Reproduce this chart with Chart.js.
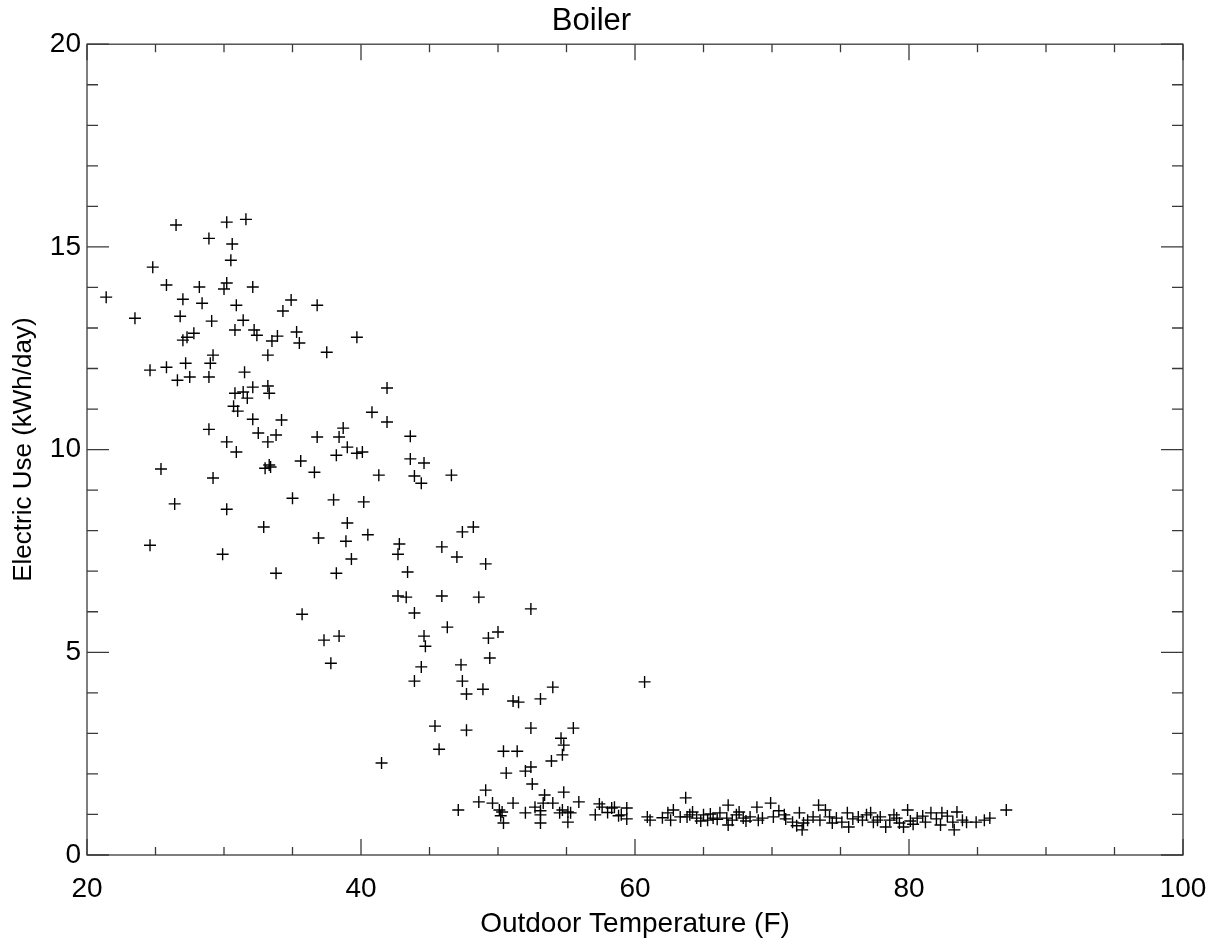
<!DOCTYPE html>
<html>
<head>
<meta charset="utf-8">
<title>Boiler</title>
<script src="https://cdn.jsdelivr.net/npm/chart.js@4.4.1/dist/chart.umd.min.js"></script>
<style>
  html, body { margin: 0; padding: 0; background: #fff; }
</style>
</head>
<body>
<canvas id="boilerChart" width="1220" height="949"></canvas>
<script>
// daily readings: outdoor temperature (F) and boiler electric use (kWh/day)
const temperature = [
  21.4, 23.5, 24.6, 24.6, 24.8, 25.4, 25.8, 25.8, 26.4, 26.5, 26.6, 26.8, 27.0, 27.0,
  27.2, 27.3, 27.5, 27.8, 28.2, 28.4, 28.9, 28.9, 28.9, 29.0, 29.1, 29.2, 29.2, 29.9,
  30.0, 30.2, 30.2, 30.2, 30.2, 30.5, 30.6, 30.7, 30.8, 30.8, 30.9, 30.9, 31.0, 31.4,
  31.4, 31.5, 31.6, 31.7, 32.1, 32.1, 32.1, 32.2, 32.4, 32.5, 32.9, 33.0, 33.2, 33.2,
  33.2, 33.3, 33.3, 33.4, 33.5, 33.8, 33.8, 33.9, 34.2, 34.3, 34.9, 35.0, 35.3, 35.5,
  35.6, 35.7, 36.6, 36.8, 36.8, 36.9, 37.3, 37.5, 37.8, 38.0, 38.2, 38.2, 38.4, 38.4,
  38.7, 38.9, 39.0, 39.0, 39.3, 39.7, 39.7, 40.1, 40.2, 40.5, 40.8, 41.3, 41.5, 41.9,
  41.9, 42.7, 42.7, 42.8, 43.3, 43.4, 43.6, 43.6, 43.9, 43.9, 43.9, 44.4, 44.4, 44.6,
  44.6, 44.7, 45.4, 45.7, 45.9, 45.9, 46.3, 46.6, 47.0, 47.3, 47.4, 47.4, 47.7, 47.7,
  48.2, 48.6, 48.9, 49.1, 49.3, 49.4, 50.0, 50.4, 50.6, 51.1, 51.4, 51.5, 52.0, 52.4,
  52.4, 52.4, 53.1, 53.9, 54.0, 54.6, 54.7, 54.8, 55.5, 60.7,
  47.1, 48.6, 49.1, 49.6, 50.1, 50.2, 50.3, 50.4, 51.1, 52.0, 52.5, 52.7, 53.1, 53.1,
  53.1, 53.3, 53.4, 54.0, 54.5, 54.7, 54.8, 55.1, 55.1, 55.3, 55.9, 57.1, 57.4, 57.6,
  58.0, 58.3, 58.5, 58.8, 59.0, 59.4, 59.4, 60.9, 61.1, 62.0, 62.4, 62.6, 62.8, 63.3,
  63.7, 63.8, 64.0, 64.2, 64.5, 64.8, 65.0, 65.3, 65.5, 65.7, 66.0, 66.2, 66.7, 66.8,
  66.8, 67.1, 67.4, 67.6, 67.9, 68.1, 68.4, 68.9, 69.0, 69.3, 69.9, 70.1, 70.5, 70.9,
  71.0, 71.5, 71.8, 72.0, 72.2, 72.3, 72.6, 73.0, 73.4, 73.5, 73.9, 74.2, 74.4, 74.7,
  75.1, 75.5, 75.6, 75.9, 76.3, 76.6, 76.9, 77.2, 77.4, 77.7, 77.9, 78.3, 78.6, 78.9,
  79.1, 79.3, 79.6, 79.9, 80.1, 80.3, 80.6, 81.0, 81.2, 81.6, 82.0, 82.3, 82.4, 82.8,
  83.2, 83.3, 83.5, 83.9, 84.2, 84.9, 85.5, 85.9, 87.1
];
const electricUse = [
  13.76, 13.24, 11.96, 7.64, 14.50, 9.52, 14.06, 12.03, 8.66, 15.54, 11.71, 13.29, 13.71, 12.70,
  12.13, 12.77, 11.79, 12.87, 14.01, 13.61, 15.21, 11.79, 10.50, 12.13, 13.17, 12.33, 9.30, 7.42,
  13.96, 15.61, 14.11, 10.19, 8.53, 14.67, 15.07, 11.07, 12.95, 11.39, 13.56, 9.94, 10.95, 13.19,
  11.42, 11.91, 15.68, 11.27, 14.01, 11.54, 10.75, 12.95, 12.82, 10.41, 8.09, 9.54, 12.33, 11.57,
  10.19, 11.39, 9.62, 9.57, 12.68, 10.36, 6.95, 12.80, 10.73, 13.42, 13.69, 8.80, 12.90, 12.63,
  9.72, 5.94, 9.44, 13.56, 10.31, 7.82, 5.30, 12.40, 4.73, 8.76, 9.86, 6.95, 10.31, 5.40,
  10.53, 7.74, 10.06, 8.19, 7.30, 12.77, 9.91, 9.94, 8.71, 7.90, 10.92, 9.37, 2.27, 11.52,
  10.68, 7.42, 6.39, 7.67, 6.36, 6.98, 10.33, 9.77, 9.35, 5.97, 4.29, 9.17, 4.64, 9.67,
  5.40, 5.15, 3.18, 2.61, 7.60, 6.39, 5.62, 9.37, 7.35, 4.69, 7.97, 4.29, 3.97, 3.08,
  8.09, 6.36, 4.09, 7.18, 5.35, 4.86, 5.50, 2.56, 2.02, 3.80, 2.56, 3.77, 2.07, 6.07,
  3.13, 2.17, 3.85, 2.32, 4.14, 2.88, 2.47, 2.71, 3.13, 4.27,
  1.11, 1.31, 1.60, 1.28, 1.11, 0.97, 1.06, 0.79, 1.28, 1.04, 1.75, 1.18, 1.09, 0.99,
  0.79, 1.28, 1.48, 1.28, 1.04, 1.11, 1.55, 1.06, 0.81, 1.04, 1.31, 0.99, 1.26, 1.18,
  1.05, 1.16, 1.18, 0.97, 0.99, 0.89, 1.16, 0.94, 0.86, 0.92, 1.04, 0.86, 1.11, 0.94,
  1.41, 0.94, 0.99, 1.06, 0.91, 0.84, 0.99, 0.86, 1.01, 0.91, 0.88, 1.04, 0.91, 0.74,
  1.23, 0.86, 0.99, 1.06, 0.91, 0.84, 0.94, 1.18, 0.86, 0.91, 1.28, 0.94, 1.09, 0.99,
  0.89, 0.81, 0.72, 1.04, 0.62, 0.79, 0.86, 0.94, 1.23, 0.86, 1.11, 0.94, 0.79, 0.91,
  0.81, 1.04, 0.69, 0.89, 0.94, 0.86, 0.99, 1.04, 0.81, 0.86, 0.94, 0.69, 0.86, 0.99,
  0.91, 0.79, 0.69, 1.11, 0.84, 0.76, 0.91, 0.96, 0.81, 1.04, 0.89, 0.74, 1.04, 0.96,
  0.81, 0.62, 1.06, 0.86, 0.81, 0.81, 0.86, 0.91, 1.11
];

const xTickValues = [20, 40, 60, 80, 100];
const yTickValues = [0, 5, 10, 15, 20];

const FONT = "'Liberation Sans', Arial, Helvetica, sans-serif";

// box around the plot with inward major/minor ticks on all four sides
const frameTicks = {
  id: "frameTicks",
  afterDatasetsDraw(chart) {
    const { ctx, chartArea: a, scales: { x, y } } = chart;
    ctx.save();
    ctx.strokeStyle = "#3a3a3a";
    ctx.lineWidth = 1.3;
    ctx.strokeRect(a.left, a.top, a.right - a.left, a.bottom - a.top);
    ctx.beginPath();
    for (let v = x.min; v <= x.max; v += 5) {
      const px = x.getPixelForValue(v);
      const len = v % 20 === 0 ? 16 : 8;
      ctx.moveTo(px, a.bottom);
      ctx.lineTo(px, a.bottom - len);
      ctx.moveTo(px, a.top);
      ctx.lineTo(px, a.top + len);
    }
    for (let v = y.min; v <= y.max; v += 1) {
      const py = y.getPixelForValue(v);
      const len = v % 5 === 0 ? 22 : 11;
      ctx.moveTo(a.left, py);
      ctx.lineTo(a.left + len, py);
      ctx.moveTo(a.right, py);
      ctx.lineTo(a.right - len, py);
    }
    ctx.stroke();
    ctx.restore();
  }
};

const ctx = document.getElementById("boilerChart").getContext("2d");

new Chart(ctx, {
  type: "scatter",
  data: {
    datasets: [
      {
        label: "Boiler",
        data: temperature.map((t, i) => ({ x: t, y: electricUse[i] })),
        pointStyle: "cross",
        pointRadius: 6,
        pointHoverRadius: 6,
        borderColor: "#000",
        backgroundColor: "#000",
        borderWidth: 1.4,
      },
    ],
  },
  options: {
    responsive: false,
    animation: false,
    layout: { padding: { left: 0, right: 37, top: 0, bottom: 0 } },
    plugins: {
      legend: { display: false },
      tooltip: { enabled: false },
      title: {
        display: true,
        text: "Boiler",
        color: "#000",
        font: { family: FONT, size: 31, weight: "normal" },
        padding: { top: 3, bottom: 4 },
      },
    },
    scales: {
      x: {
        type: "linear",
        min: 20,
        max: 100,
        afterBuildTicks: (s) => { s.ticks = xTickValues.map((v) => ({ value: v })); },
        afterFit: (s) => {
          s.height = 94;
          s.paddingLeft = 0;
          s.paddingRight = 0;
        },
        grid: { display: false, drawTicks: false },
        border: { display: false },
        ticks: {
          color: "#000",
          padding: 17,
          maxRotation: 0,
          font: { family: FONT, size: 28 },
        },
        title: {
          display: true,
          text: "Outdoor Temperature (F)",
          color: "#000",
          font: { family: FONT, size: 28 },
          padding: { top: 0, bottom: 8 },
        },
      },
      y: {
        type: "linear",
        min: 0,
        max: 20,
        afterBuildTicks: (s) => { s.ticks = yTickValues.map((v) => ({ value: v })); },
        afterFit: (s) => { s.width = 87; },
        grid: { display: false, drawTicks: false },
        border: { display: false },
        ticks: {
          color: "#000",
          padding: 6,
          font: { family: FONT, size: 28 },
        },
        title: {
          display: true,
          text: "Electric Use (kWh/day)",
          color: "#000",
          font: { family: FONT, size: 26 },
          padding: { top: 8, bottom: 0 },
        },
      },
    },
  },
  plugins: [frameTicks],
});
</script>
</body>
</html>
